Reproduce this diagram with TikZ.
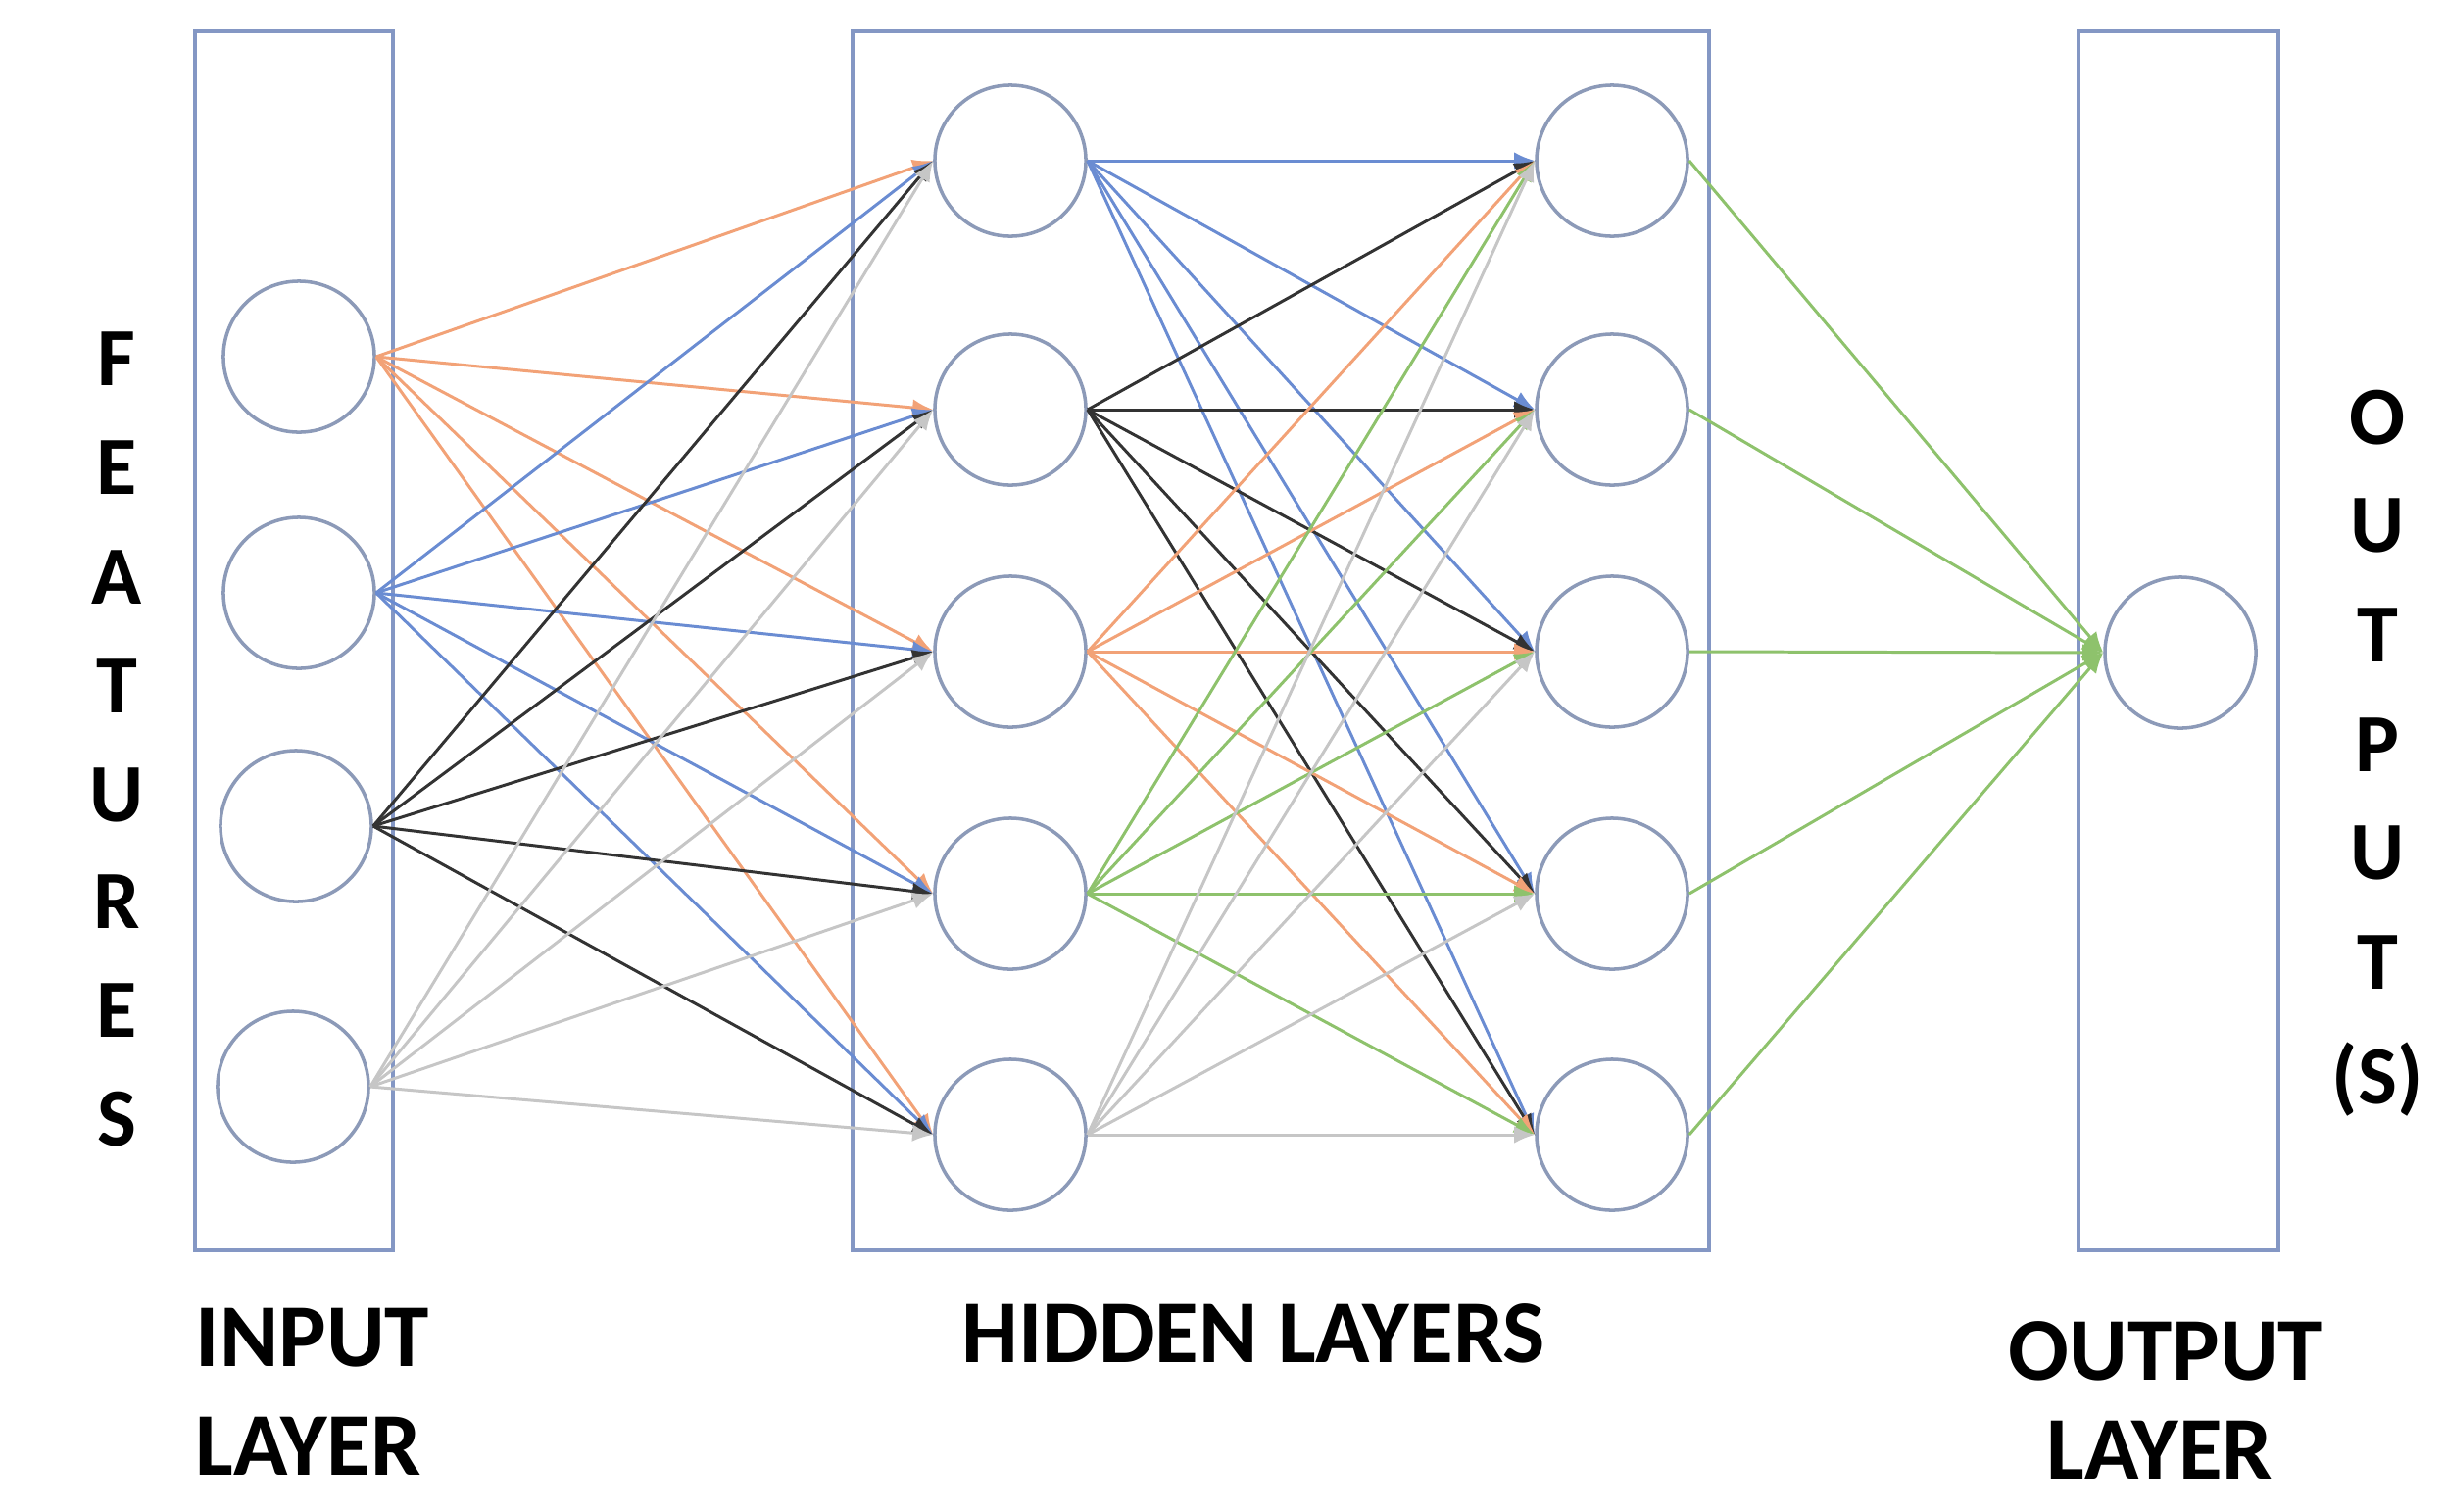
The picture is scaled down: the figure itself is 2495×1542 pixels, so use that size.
\documentclass[tikz,border=0pt]{standalone}
\usepackage{fontspec}
\setmainfont{Carlito}
\usetikzlibrary{arrows.meta}
\definecolor{boxc}{HTML}{8497C4}
\definecolor{circc}{HTML}{8C9AB8}
\definecolor{eorange}{HTML}{F2A277}
\definecolor{eblue}{HTML}{6A8CD2}
\definecolor{edark}{HTML}{333333}
\definecolor{egray}{HTML}{C6C6C6}
\definecolor{egreen}{HTML}{8EC26C}
\begin{document}
\begin{tikzpicture}[x=0.01cm,y=-0.01cm,
  neuron/.style={circle,draw=circc,line width=1pt,minimum size=1.54cm,inner sep=0pt,fill=white},
  layerbox/.style={draw=boxc,line width=1.2pt,inner sep=0pt},
  edge/.style={line width=0.85pt,-{Latex[length=6pt,width=5pt]}},
  lbl/.style={font=\fontsize{26}{30}\selectfont\bfseries,inner sep=0pt,text depth=0pt},
  vlbl/.style={font=\fontsize{24}{28}\selectfont\bfseries,inner sep=0pt,text depth=0pt}]
\useasboundingbox (0,0) rectangle (2495,1542);
% layer boxes
\node[layerbox,minimum width=2.02cm,minimum height=12.44cm] (inbox) at (300,654) {};
\node[layerbox,minimum width=8.74cm,minimum height=12.44cm] (hidbox) at (1307,654) {};
\node[layerbox,minimum width=2.04cm,minimum height=12.44cm] (outbox) at (2223,654) {};
% neurons
\node[neuron] (i1) at (305,364) {};
\node[neuron] (i2) at (305,605) {};
\node[neuron] (i3) at (302,843) {};
\node[neuron] (i4) at (299,1109) {};
\foreach \k/\y in {1/164,2/418,3/665,4/912,5/1158}{
  \node[neuron] (h\k) at (1031,\y) {};
  \node[neuron] (g\k) at (1645,\y) {};
}
\node[neuron] (o) at (2225,666) {};
% input -> hidden 1
\foreach \s/\c in {1/eorange,2/eblue,3/edark,4/egray}
  \foreach \t in {1,...,5}
    \draw[edge,\c] (i\s.east) -- (h\t.west);
% hidden 1 -> hidden 2
\foreach \s/\c in {1/eblue,2/edark,3/eorange,4/egreen,5/egray}
  \foreach \t in {1,...,5}
    \draw[edge,\c] (h\s.east) -- (g\t.west);
% hidden 2 -> output
\foreach \s in {1,...,5}
  \draw[edge,egreen] (g\s.east) -- (o.west);
% vertical labels
\foreach \l/\y [count=\n] in {F/366,E/477,A/589,T/700,U/811,R/920,E/1031,S/1142}
  \node[vlbl] (f\n) at (119,\y) {\l};
\foreach \l/\y [count=\n] in {O/426,U/536,T/648,P/760,U/870,T/982,(S)/1095}
  \node[vlbl] (s\n) at (2426,\y) {\l};
% layer labels
\node[lbl,anchor=west] (inl1) at (199,1365) {INPUT};
\node[lbl,anchor=west] (inl2) at (199,1476) {LAYER};
\node[lbl] (hidl) at (1279,1360) {HIDDEN LAYERS};
\node[lbl] (outl1) at (2210,1378) {OUTPUT};
\node[lbl] (outl2) at (2204,1480) {LAYER};
\end{tikzpicture}
\end{document}
